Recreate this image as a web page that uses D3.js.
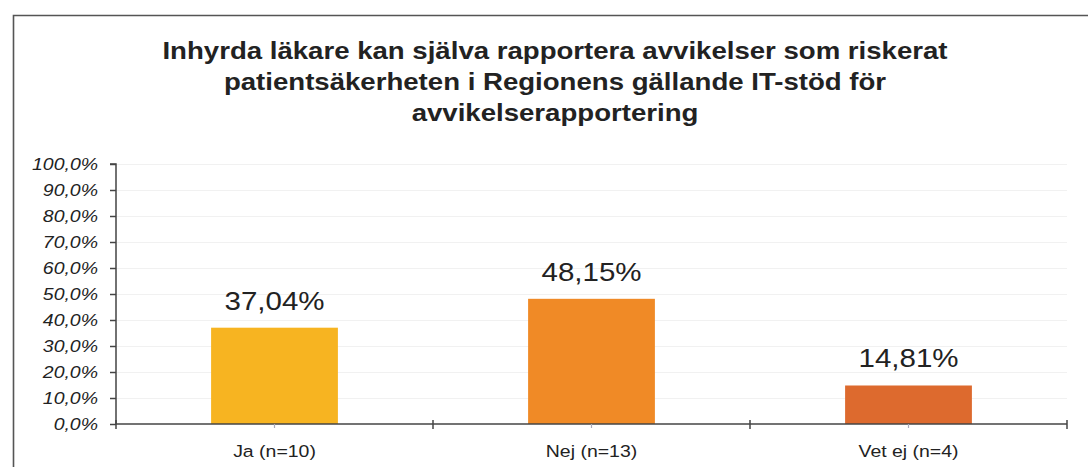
<!DOCTYPE html>
<html><head><meta charset="utf-8">
<script src="https://cdn.jsdelivr.net/npm/d3@7"></script>
<style>html,body{margin:0;padding:0;background:#fff;}svg{display:block;}</style>
</head><body>
<svg id="c" width="1088" height="467"></svg>
<script>
const titleLines = ["Inhyrda läkare kan själva rapportera avvikelser som riskerat",
                    "patientsäkerheten i Regionens gällande IT-stöd för",
                    "avvikelserapportering"];
const categories = ["Ja (n=10)", "Nej (n=13)", "Vet ej (n=4)"];
const values = [37.04, 48.15, 14.81];
const valueLabels = ["37,04%", "48,15%", "14,81%"];
const barColors = ["#F7B421", "#F08A26", "#DD6A2E"];
const yTicks = [0,10,20,30,40,50,60,70,80,90,100];
const yTickLabels = ["0,0%","10,0%","20,0%","30,0%","40,0%","50,0%","60,0%","70,0%","80,0%","90,0%","100,0%"];

const svg = d3.select("#c");
const sx = 1.18; // horizontal stretch seen in the source image
const font = "'Liberation Sans', Arial, sans-serif";

// frame
svg.append("path").attr("d","M13.5,470 V15.5 H1090").attr("fill","none")
  .attr("stroke","#555").attr("stroke-width",1.6);

const m = {left:116, right:1067, top:164, bottom:424};
const x = d3.scaleBand().domain(categories).range([m.left, m.right]).paddingInner(0.6).paddingOuter(0.3);
const xb = d3.scaleBand().domain(categories).range([m.left, m.right]);
const y = d3.scaleLinear().domain([0,100]).range([m.bottom, m.top]);

function stretchText(sel, px, py, s){
  return sel.append("text").attr("transform", `translate(${px},${py}) scale(${s||sx},1)`);
}

// title
titleLines.forEach((t,i)=>{
  stretchText(svg, 555, 59 + i*31, 1.2).attr("text-anchor","middle")
    .attr("font-family",font).attr("font-weight","bold").attr("font-size",23)
    .attr("fill","#222").text(t);
});

// gridlines
svg.append("g").selectAll("line").data(yTicks.slice(1)).join("line")
  .attr("x1",m.left).attr("x2",m.right).attr("y1",d=>y(d)+0.5).attr("y2",d=>y(d)+0.5)
  .attr("stroke","#f1f1f1").attr("stroke-width",1);

// bars
svg.append("g").selectAll("rect").data(values).join("rect")
  .attr("x",(d,i)=>x(categories[i])).attr("width",x.bandwidth())
  .attr("y",d=>y(d)).attr("height",d=>y(0)-y(d))
  .attr("fill",(d,i)=>barColors[i]);

// value labels
values.forEach((v,i)=>{
  stretchText(svg, x(categories[i])+x.bandwidth()/2, y(v)-18).attr("text-anchor","middle")
    .attr("font-family",font).attr("font-size",25).attr("fill","#222").text(valueLabels[i]);
});

// y axis
const yAxis = d3.axisLeft(y).tickValues(yTicks).tickSize(6).tickFormat("");
const gy = svg.append("g").attr("transform",`translate(${m.left},0)`).call(yAxis);
gy.selectAll("path,line").attr("stroke","#444").attr("stroke-width",1.5);
gy.select(".domain").attr("d",`M-6,${m.top}H0V${m.bottom}`);
yTicks.forEach((t,i)=>{
  stretchText(svg, 98, y(t)+6).attr("text-anchor","end")
    .attr("font-family",font).attr("font-style","italic").attr("font-size",16.5)
    .attr("fill","#222").text(yTickLabels[i]);
});

// x axis
svg.append("line").attr("x1",m.left).attr("x2",m.right).attr("y1",m.bottom).attr("y2",m.bottom)
  .attr("stroke","#444").attr("stroke-width",1.5);
const bounds = categories.map(c=>xb(c)).concat([m.right]);
svg.append("g").selectAll("line").data(bounds).join("line")
  .attr("x1",d=>d).attr("x2",d=>d).attr("y1",m.bottom-4).attr("y2",m.bottom+5)
  .attr("stroke","#444").attr("stroke-width",1.5);
svg.append("g").selectAll("line").data(categories).join("line")
  .attr("x1",d=>xb(d)+xb.bandwidth()/2).attr("x2",d=>xb(d)+xb.bandwidth()/2)
  .attr("y1",m.bottom).attr("y2",m.bottom+4).attr("stroke","#aab").attr("stroke-width",1.2);
categories.forEach(c=>{
  stretchText(svg, xb(c)+xb.bandwidth()/2, 457).attr("text-anchor","middle")
    .attr("font-family",font).attr("font-size",16.5).attr("fill","#222").text(c);
});
</script>
</body></html>
